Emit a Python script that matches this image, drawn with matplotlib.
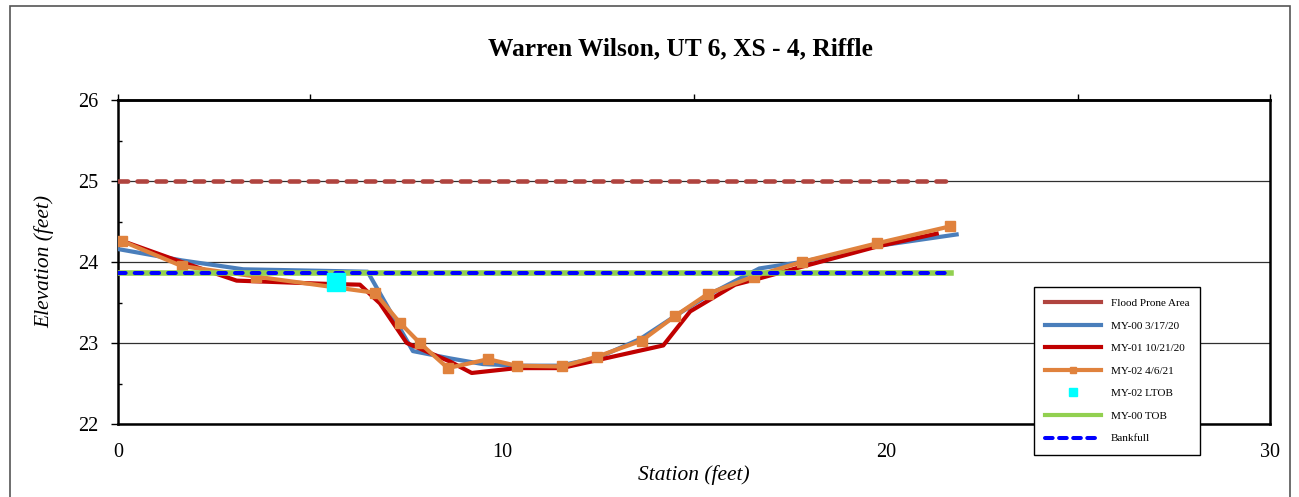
import matplotlib
matplotlib.use("Agg")
import matplotlib.pyplot as plt
from matplotlib.patches import Rectangle
from matplotlib.lines import Line2D

# ---- data ----
title = "Warren Wilson, UT 6, XS - 4, Riffle"
x_label = "Station (feet)"
y_label = "Elevation (feet)"

flood_x = [0.0, 21.7]
flood_y = [25.0, 25.0]

my00_x = [0.0, 1.66, 3.26, 6.5, 7.68, 8.65, 9.5, 10.4, 11.5, 12.5, 13.6, 14.5, 15.4, 16.7, 17.8, 19.8, 21.84]
my00_y = [24.16, 24.02, 23.91, 23.88, 22.9, 22.81, 22.74, 22.72, 22.72, 22.82, 23.05, 23.33, 23.6, 23.92, 24.0, 24.2, 24.34]

my01_x = [0.05, 1.53, 3.09, 5.43, 6.3, 6.82, 7.52, 8.65, 9.21, 10.38, 11.55, 14.2, 14.9, 16.07, 16.72, 17.8, 19.76, 21.32]
my01_y = [24.27, 24.02, 23.77, 23.73, 23.72, 23.49, 23.0, 22.77, 22.63, 22.69, 22.69, 22.97, 23.39, 23.72, 23.8, 23.94, 24.19, 24.35]

my02_x = [0.1, 1.66, 3.59, 6.69, 7.34, 7.86, 8.59, 9.64, 10.38, 11.55, 12.47, 13.64, 14.5, 15.37, 16.55, 17.8, 19.76, 21.67]
my02_y = [24.26, 23.95, 23.82, 23.62, 23.25, 23.0, 22.69, 22.8, 22.72, 22.71, 22.83, 23.03, 23.33, 23.61, 23.82, 24.0, 24.23, 24.44]

ltob_x = [5.68]
ltob_y = [23.75]

tob_x = [0.0, 21.7]
tob_y = [23.86, 23.86]

bkf_x = [0.0, 21.7]
bkf_y = [23.86, 23.86]

x_ticks = [0, 10, 20, 30]
y_ticks = [22, 23, 24, 25, 26]

plt.rcParams['font.family'] = ['Liberation Serif', 'DejaVu Serif']

fig = plt.figure(figsize=(12.99, 4.97), dpi=100)
ax = fig.add_axes([118/1299, 1-424/497, (1270-118)/1299, (424-100)/497])

# figure border
fig.patches.append(Rectangle((10/1299, -0.01), (1290-10)/1299, 1-6/497+0.01,
                             transform=fig.transFigure, fill=False,
                             edgecolor='#555555', linewidth=1.2, zorder=0))

ax.plot(flood_x, flood_y, color='#B0443F', lw=3.3, dashes=(2.1, 2.05),
        dash_capstyle='round', label='Flood Prone Area', zorder=3)
ax.plot(my00_x, my00_y, color='#4A7EBB', lw=3.0, label='MY-00 3/17/20', zorder=4)
ax.plot(my01_x, my01_y, color='#C00000', lw=3.0, label='MY-01 10/21/20', zorder=5)
ax.plot(my02_x, my02_y, color='#E0823D', lw=3.0, marker='s', markersize=7.5,
        label='MY-02 4/6/21', zorder=6)
ax.plot(tob_x, tob_y, color='#92D050', lw=4.0, label='MY-00 TOB', zorder=7)
ax.plot(bkf_x, bkf_y, color='#0000FF', lw=2.9, dashes=(1.9, 2.25),
        dash_capstyle='round', label='Bankfull', zorder=8)
ax.plot(ltob_x, ltob_y, color='#00FFFF', lw=0, marker='s', markersize=13,
        label='MY-02 LTOB', zorder=9)

ax.set_xlim(0, 30)
ax.set_ylim(22, 26)
ax.set_xticks(x_ticks)
ax.set_yticks(y_ticks)
ax.set_yticks([22.5, 23.5, 24.5, 25.5], minor=True)
ax.grid(axis='y', which='major', color='#303030', lw=0.9, zorder=1)

for s in ax.spines.values():
    s.set_linewidth(1.8)
    s.set_color('black')

ax.tick_params(axis='x', which='major', length=0, pad=14, labelsize=14.5)
ax.tick_params(axis='y', which='major', direction='out', length=5, width=1,
               pad=9, labelsize=14.5)
ax.tick_params(axis='y', which='minor', direction='in', length=3, width=1)

sec = ax.secondary_xaxis('top')
sec.set_xticks([0, 5, 15, 25, 30])
sec.tick_params(direction='out', length=4, width=1, labeltop=False)
sec.spines['top'].set_linewidth(1.8)

ax.set_xlabel(x_label, fontsize=15.5, style='italic', labelpad=2)
ax.set_ylabel(y_label, fontsize=15.5, style='italic', labelpad=17)
fig.text(0.5235, 0.901, title, fontsize=18.3, fontweight='bold',
         ha='center', va='center')

order = ['Flood Prone Area', 'MY-00 3/17/20', 'MY-01 10/21/20', 'MY-02 4/6/21',
         'MY-02 LTOB', 'MY-00 TOB', 'Bankfull']
leg_handles = [
    Line2D([], [], color='#B0443F', lw=3.0),
    Line2D([], [], color='#4A7EBB', lw=3.0),
    Line2D([], [], color='#C00000', lw=3.0),
    Line2D([], [], color='#E0823D', lw=3.0, marker='s', markersize=5),
    Line2D([], [], color='#00FFFF', lw=0, marker='s', markersize=5.5),
    Line2D([], [], color='#92D050', lw=3.0),
    Line2D([], [], color='#0000FF', lw=2.9, dashes=(1.9, 1.6), dash_capstyle='round'),
]
leg = ax.legend(leg_handles, order, loc='upper left', bbox_to_anchor=(0.795, 0.422),
                fontsize=8, frameon=True, fancybox=False, edgecolor='black',
                framealpha=1, handlelength=5.0, handletextpad=0.9,
                labelspacing=1.15, borderpad=1.0, borderaxespad=0)
leg.get_frame().set_linewidth(1.0)
leg.set_zorder(20)

fig.savefig('out.png', dpi=100)
